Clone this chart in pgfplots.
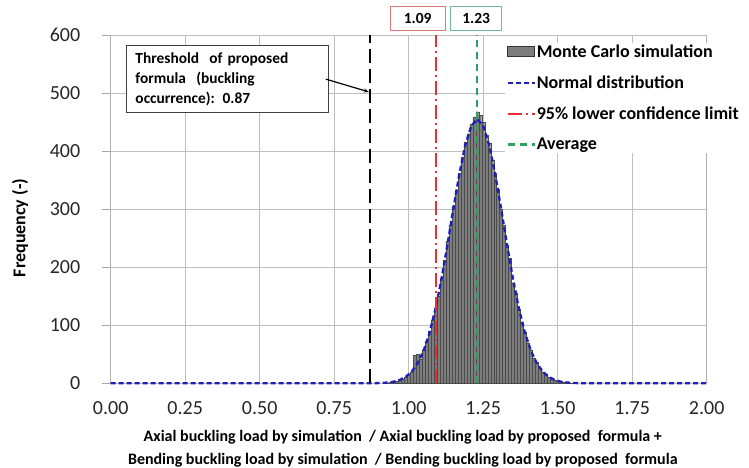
\documentclass[border=0pt]{standalone}
\usepackage{fontspec}
\setmainfont{Carlito}
\usepackage{pgfplots}
\pgfplotsset{compat=1.18}
\usetikzlibrary{arrows.meta}
\definecolor{barfill}{RGB}{125,125,125}
\definecolor{baredge}{RGB}{75,75,75}
\definecolor{normblue}{RGB}{30,30,190}
\definecolor{limred}{RGB}{230,50,50}
\definecolor{avggreen}{RGB}{40,165,95}
\definecolor{redbox}{RGB}{225,120,120}
\definecolor{greenbox}{RGB}{110,185,150}
\begin{document}
\begin{tikzpicture}
\useasboundingbox (-110.7bp,-84.7bp) rectangle (638.3bp,383.3bp);
\begin{axis}[
  at={(0,0)}, anchor=south west,
  scale only axis, width=596bp, height=348.3bp,
  xmin=0, xmax=2, ymin=0, ymax=600,
  xtick={0,0.25,0.5,0.75,1,1.25,1.5,1.75,2},
  ytick={0,100,200,300,400,500,600},
  /pgf/number format/assume math mode=true,
  tick label style={font=\fontsize{20bp}{20bp}\selectfont, text=black!85},
  xticklabel style={yshift=-6bp, /pgf/number format/.cd, fixed, fixed zerofill, precision=2},
  yticklabel style={anchor=east, xshift=-18bp},
  grid=major,
  major grid style={draw=black!25, line width=0.8bp},
  separate axis lines,
  every outer x axis line/.append style={draw=none},
  every outer y axis line/.append style={draw=black!30, line width=0.8bp},
  xtick style={draw=none},
  ytick style={draw=black!35, line width=0.8bp},
  xtick pos=left, ytick pos=left,
  tick align=outside,
  major tick length=9bp,
  xlabel={Axial buckling load by simulation~~/ Axial buckling load by proposed~~formula +\\Bending buckling load by simulation~~/ Bending buckling load by proposed~~formula},
  xlabel style={at={(axis description cs:0.49,-0.135)}, anchor=north, align=center, inner sep=0pt, font=\bfseries\fontsize{16bp}{22.5bp}\selectfont},
  ylabel={Frequency (-)},
  ylabel style={at={(axis description cs:-0.152,0.446)}, anchor=center, font=\bfseries\fontsize{18bp}{18bp}\selectfont},
  clip=false,
  legend cell align=left,
  legend image code/.code={\draw[#1] (0bp,0bp) -- (27bp,0bp);},
  legend style={at={(rel axis cs:0.662,0.979)}, anchor=north west, draw=none, fill=white,
    font=\bfseries\fontsize{18bp}{20bp}\selectfont, inner sep=1bp, row sep=15bp,
    nodes={inner sep=1bp}},
]
% Monte Carlo histogram (bin width 0.01)
\addplot[ybar, bar width=0.01, bar shift=0pt, fill=barfill, draw=baredge, line width=0.25bp,
  legend image code/.code={\draw[fill=barfill, draw=black!80, line width=0.6bp] (0bp,-5bp) rectangle (27bp,5bp);}]
coordinates {
(0.92,0.5) (0.93,1) (0.94,1.5) (0.95,3) (0.96,4) (0.97,6) (0.98,8) (0.99,11)
(1.00,16) (1.01,20) (1.02,48) (1.03,50) (1.04,42) (1.05,58) (1.06,72) (1.07,90)
(1.08,108) (1.09,130) (1.10,150) (1.11,182) (1.12,212) (1.13,245) (1.14,272)
(1.15,305) (1.16,332) (1.17,362) (1.18,390) (1.19,415) (1.20,430) (1.21,447)
(1.22,458) (1.23,468) (1.24,462) (1.25,450) (1.26,428) (1.27,414) (1.28,385)
(1.29,362) (1.30,335) (1.31,300) (1.32,272) (1.33,238) (1.34,215) (1.35,172)
(1.36,156) (1.37,128) (1.38,104) (1.39,88) (1.40,70) (1.41,58) (1.42,44)
(1.43,36) (1.44,26) (1.45,20) (1.46,15) (1.47,11) (1.48,8) (1.49,6) (1.50,4)
(1.51,3) (1.52,2) (1.53,1.5) (1.54,1) (1.55,0.5)
};
% Normal distribution
\addplot[normblue, line width=2.3bp, dash pattern=on 5bp off 3bp]
coordinates {
(0,0) (0.5,0) (0.85,0) (0.87,0.1) (0.89,0.25) (0.91,0.6) (0.93,1.4) (0.95,2.9)
(0.97,5.8) (0.99,11.1) (1.01,20.0) (1.03,34.4) (1.05,56.2) (1.07,87.1)
(1.09,128.4) (1.11,179.5) (1.13,238.6) (1.15,301.0) (1.17,360.6) (1.19,410.4)
(1.21,443.4) (1.23,455) (1.25,443.4) (1.27,410.4) (1.29,360.6) (1.31,301.0)
(1.33,238.6) (1.35,179.5) (1.37,128.4) (1.39,87.1) (1.41,56.2) (1.43,34.4)
(1.45,20.0) (1.47,11.1) (1.49,5.8) (1.51,2.9) (1.53,1.4) (1.55,0.6)
(1.57,0.25) (1.59,0.1) (1.62,0) (2.0,0)
};
% 95% lower confidence limit
\addplot[limred, line width=2bp, dash pattern=on 14bp off 4bp on 2bp off 4bp]
coordinates {(1.09,0) (1.09,600)};
% Average
\addplot[avggreen, line width=2.3bp, dash pattern=on 7bp off 5bp]
coordinates {(1.23,0) (1.23,600)};
% Threshold
\addplot[black, line width=2.3bp, dash pattern=on 14bp off 6bp, forget plot]
coordinates {(0.87,0) (0.87,600)};
\legend{Monte Carlo simulation, Normal distribution, 95\% lower confidence limit, Average}

\node[draw=redbox, line width=1bp, fill=white, minimum width=55bp, minimum height=24bp, inner sep=0pt,
  font=\bfseries\fontsize{15.5bp}{15.5bp}\selectfont] at (axis cs:1.030,629) {1.09};
\node[draw=greenbox, line width=1bp, fill=white, minimum width=51bp, minimum height=24bp, inner sep=0pt,
  font=\bfseries\fontsize{15.5bp}{15.5bp}\selectfont] at (axis cs:1.2265,629) {1.23};

\node[draw=black!75, line width=1bp, fill=white, text width=184bp, align=left,
  inner xsep=9bp, inner ysep=7bp, anchor=north west,
  font=\bfseries\fontsize{15.4bp}{20bp}\selectfont] at (axis cs:0.0513,582.8)
  {Threshold~~of proposed\\formula~~(buckling\\occurrence): 0.87};
\draw[black, line width=1.2bp, -{Stealth[length=5bp,width=4bp]}] (axis cs:0.722,524) -- (axis cs:0.866,502);
\end{axis}
\end{tikzpicture}
\end{document}
